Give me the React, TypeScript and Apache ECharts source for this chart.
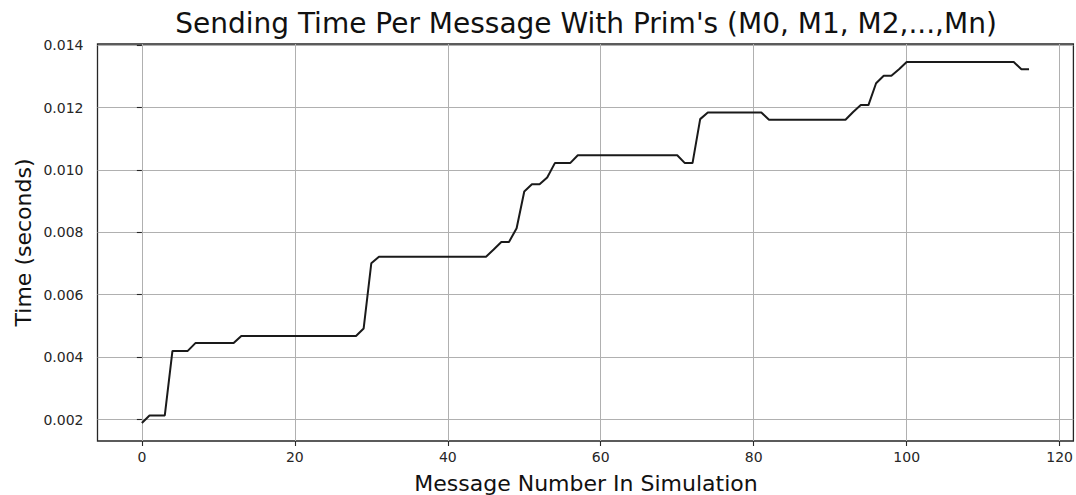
import React, { useEffect, useRef } from "react";
import * as echarts from "echarts";

const TITLE = "Sending Time Per Message With Prim's (M0, M1, M2,...,Mn)";
const X_LABEL = "Message Number In Simulation";
const Y_LABEL = "Time (seconds)";

// Sending time (seconds) for message number 0..116
const sendTimes: number[] = [
  0.00189, 0.00213, 0.00213, 0.00213, 0.0042, 0.0042, 0.0042, 0.00445, 0.00445, 0.00445,
  0.00445, 0.00445, 0.00445, 0.00468, 0.00468, 0.00468, 0.00468, 0.00468, 0.00468, 0.00468,
  0.00468, 0.00468, 0.00468, 0.00468, 0.00468, 0.00468, 0.00468, 0.00468, 0.00468, 0.00492,
  0.00701, 0.00722, 0.00722, 0.00722, 0.00722, 0.00722, 0.00722, 0.00722, 0.00722, 0.00722,
  0.00722, 0.00722, 0.00722, 0.00722, 0.00722, 0.00722, 0.00745, 0.00769, 0.00769, 0.00813,
  0.00931, 0.00954, 0.00954, 0.00976, 0.01022, 0.01022, 0.01022, 0.01047, 0.01047, 0.01047,
  0.01047, 0.01047, 0.01047, 0.01047, 0.01047, 0.01047, 0.01047, 0.01047, 0.01047, 0.01047,
  0.01047, 0.01022, 0.01022, 0.01163, 0.01184, 0.01184, 0.01184, 0.01184, 0.01184, 0.01184,
  0.01184, 0.01184, 0.01161, 0.01161, 0.01161, 0.01161, 0.01161, 0.01161, 0.01161, 0.01161,
  0.01161, 0.01161, 0.01161, 0.01186, 0.01208, 0.01208, 0.01278, 0.01302, 0.01302, 0.01323,
  0.01346, 0.01346, 0.01346, 0.01346, 0.01346, 0.01346, 0.01346, 0.01346, 0.01346, 0.01346,
  0.01346, 0.01346, 0.01346, 0.01346, 0.01346, 0.01323, 0.01323,
];

const xTicks: number[] = [0, 20, 40, 60, 80, 100, 120];
const yTicks: number[] = [0.002, 0.004, 0.006, 0.008, 0.01, 0.012, 0.014];

const FONT = "DejaVu Sans";

export default function App() {
  const ref = useRef<HTMLDivElement>(null);

  useEffect(() => {
    if (!ref.current) return;
    const chart = echarts.init(ref.current, undefined, { renderer: "svg" });
    const data = sendTimes.map((v, i) => [i, v]);
    const pad = (e: { min: number; max: number }) => 0.05 * (e.max - e.min);

    const gridLeft = 97.5;
    const gridRight = 1.5;
    const gridTop = 44;
    const gridBottom = 54;
    const plotCenterX = gridLeft + (1076 - gridLeft - gridRight) / 2;
    const plotCenterY = gridTop + (495 - gridTop - gridBottom) / 2;

    chart.setOption({
      animation: false,
      backgroundColor: "#ffffff",
      grid: {
        left: gridLeft,
        right: gridRight,
        top: gridTop,
        bottom: gridBottom,
        show: true,
        borderColor: "#262626",
        borderWidth: 1.3,
        backgroundColor: "transparent",
        containLabel: false,
      },
      xAxis: {
        type: "value",
        min: (e: any) => e.min - pad(e),
        max: (e: any) => e.max + pad(e),
        axisLine: { show: false },
        axisTick: {
          show: true,
          inside: false,
          length: 5,
          customValues: xTicks,
          lineStyle: { color: "#262626", width: 1.1 },
        },
        axisLabel: {
          customValues: xTicks,
          margin: 9,
          color: "#262626",
          fontFamily: FONT,
          fontSize: 14,
          formatter: (v: number) => String(v),
        },
        splitLine: { show: true, lineStyle: { color: "#b0b0b0", width: 1 } },
      },
      yAxis: {
        type: "value",
        min: (e: any) => e.min - pad(e),
        max: (e: any) => e.max + pad(e),
        axisLine: { show: false },
        axisTick: {
          show: true,
          inside: false,
          length: 5,
          customValues: yTicks,
          lineStyle: { color: "#262626", width: 1.1 },
        },
        axisLabel: {
          customValues: yTicks,
          margin: 14,
          color: "#262626",
          fontFamily: FONT,
          fontSize: 14,
          formatter: (v: number) => v.toFixed(3),
        },
        splitLine: { show: true, lineStyle: { color: "#b0b0b0", width: 1 } },
      },
      graphic: [
        {
          type: "text",
          x: plotCenterX,
          y: 23,
          style: {
            text: TITLE,
            fontFamily: FONT,
            fontSize: 28,
            fill: "#111111",
            textAlign: "center",
            textVerticalAlign: "middle",
          },
        },
        {
          type: "text",
          x: plotCenterX,
          y: 483,
          style: {
            text: X_LABEL,
            fontFamily: FONT,
            fontSize: 22,
            fill: "#111111",
            textAlign: "center",
            textVerticalAlign: "middle",
          },
        },
        {
          type: "text",
          x: 23,
          y: plotCenterY,
          rotation: Math.PI / 2,
          style: {
            text: Y_LABEL,
            fontFamily: FONT,
            fontSize: 22,
            fill: "#111111",
            textAlign: "center",
            textVerticalAlign: "middle",
          },
        },
      ],
      series: [
        {
          type: "line",
          data,
          showSymbol: false,
          symbol: "none",
          lineStyle: { color: "#1a1a1a", width: 2 },
          clip: true,
        },
      ],
    });

    return () => chart.dispose();
  }, []);

  return (
    <div
      ref={ref}
      style={{ position: "absolute", left: 0, top: 0, width: 1076, height: 495 }}
    />
  );
}
